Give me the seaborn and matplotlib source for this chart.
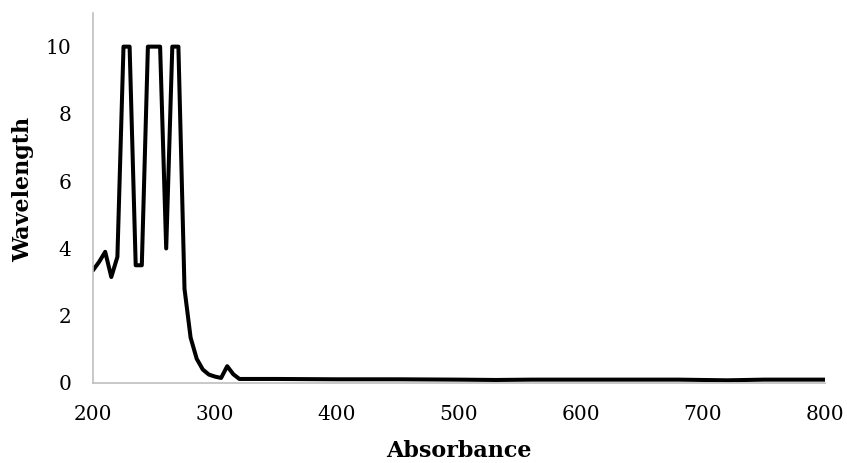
import matplotlib
matplotlib.use("Agg")
import matplotlib.pyplot as plt
import seaborn as sns
import pandas as pd

# Data
absorbance = [200, 205, 210, 215, 220, 225, 230, 235, 240, 245, 250, 255, 260,
              265, 270, 275, 280, 285, 290, 295, 300, 305, 310, 315, 320, 325,
              330, 350, 400, 450, 500, 530, 560, 600, 650, 680, 720, 750, 800]
wavelength = [3.35, 3.6, 3.9, 3.15, 3.75, 10.0, 10.0, 3.5, 3.5, 10.0, 10.0, 10.0, 4.0,
              10.0, 10.0, 2.8, 1.35, 0.72, 0.4, 0.25, 0.19, 0.15, 0.5, 0.26, 0.12, 0.12,
              0.12, 0.12, 0.11, 0.11, 0.1, 0.09, 0.1, 0.1, 0.1, 0.1, 0.08, 0.1, 0.1]
x_ticks = [200, 300, 400, 500, 600, 700, 800]
y_ticks = [0, 2, 4, 6, 8, 10]

df = pd.DataFrame({"Absorbance": absorbance, "Wavelength": wavelength})

sns.set_theme(style="white")
plt.rcParams['font.family'] = ['DejaVu Serif']

fig = plt.figure(figsize=(8.47, 4.63), dpi=100)
ax = fig.add_axes([93/847, 80/463, (825-93)/847, (450-80)/463])

sns.lineplot(data=df, x="Absorbance", y="Wavelength", ax=ax, color="black",
             linewidth=2.9, solid_joinstyle="round", solid_capstyle="round")

ax.set_xlim(200, 800)
ax.set_ylim(0, 11)
ax.set_xticks(x_ticks)
ax.set_yticks(y_ticks)
ax.tick_params(axis="both", length=0, labelsize=14.5, colors="black")
ax.tick_params(axis="x", pad=16)
ax.tick_params(axis="y", pad=15.5)

for side in ["top", "right"]:
    ax.spines[side].set_visible(False)
for side in ["left", "bottom"]:
    ax.spines[side].set_color("#bfbfbf")
    ax.spines[side].set_linewidth(1.2)

ax.set_xlabel("Absorbance", fontsize=16, fontweight="bold", color="black")
ax.set_ylabel("Wavelength", fontsize=16, fontweight="bold", color="black")
ax.xaxis.set_label_coords(0.5, -0.155)
ax.yaxis.set_label_coords(-0.081, 0.524)

fig.savefig("out.png", dpi=100)
